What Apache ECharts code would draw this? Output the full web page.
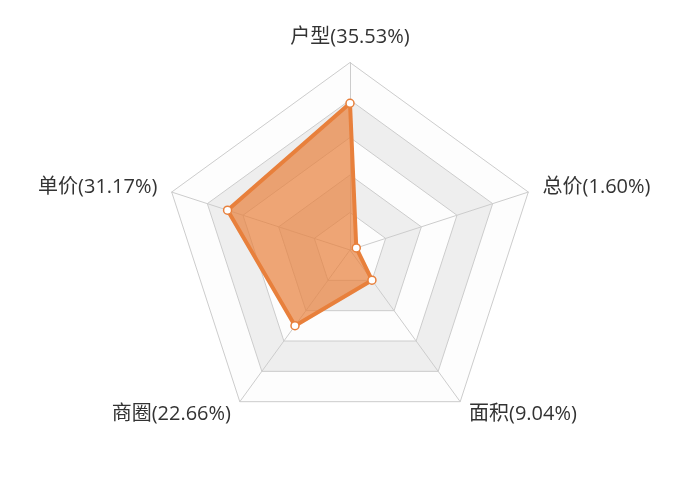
<!DOCTYPE html>
<html>
<head>
<meta charset="utf-8">
<script src="https://cdn.jsdelivr.net/npm/echarts@6/dist/echarts.min.js"></script>
<style>html,body{margin:0;padding:0;background:#fff}#c{width:700px;height:500px}</style>
</head>
<body>
<div id="c"></div>
<script>
const indicatorNames = ['户型(35.53%)', '单价(31.17%)', '商圈(22.66%)', '面积(9.04%)', '总价(1.60%)'];
const values = [35.53, 31.17, 22.66, 9.04, 1.60];
const maxValue = 45.4;

const chart = echarts.init(document.getElementById('c'), null, {renderer: 'canvas'});
chart.setOption({
  animation: false,
  radar: {
    center: ['50%', '50%'],
    radius: '75%',
    startAngle: 90,
    nameGap: 15,
    axisName: {
      color: '#333',
      fontSize: 20,
      fontFamily: '"Open Sans", "Noto Sans CJK SC", sans-serif'
    },
    indicator: indicatorNames.map(n => ({ name: n, max: maxValue, min: 0 })),
    splitNumber: 5,
    splitLine: { lineStyle: { color: '#ccc' } },
    axisLine: { lineStyle: { color: '#ccc' } },
    splitArea: { areaStyle: { color: ['rgba(250,250,250,0.3)', 'rgba(200,200,200,0.3)'] } }
  },
  series: [{
    type: 'radar',
    symbol: 'circle',
    symbolSize: 8,
    itemStyle: { color: '#fff', borderColor: '#e8803c', borderWidth: 1.5 },
    lineStyle: { color: '#e8803c', width: 4 },
    areaStyle: { color: '#e8803c', opacity: 0.7 },
    data: [{ value: values }]
  }]
});
</script>
</body>
</html>
